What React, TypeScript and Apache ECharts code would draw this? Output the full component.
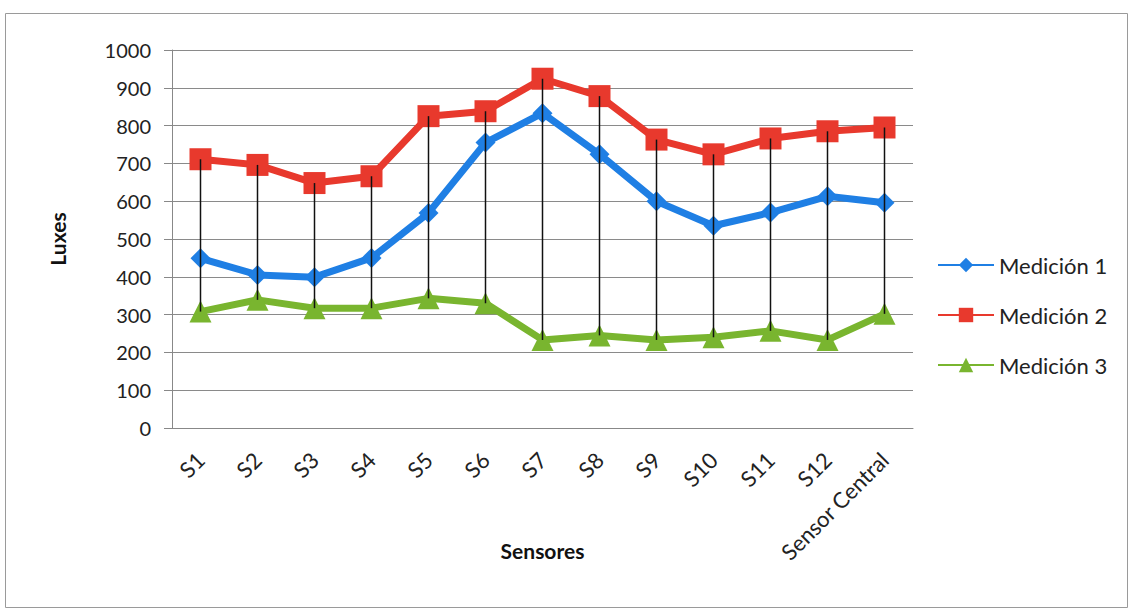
import React, { useEffect, useRef } from "react";
import * as echarts from "echarts";

const categories = ["S1", "S2", "S3", "S4", "S5", "S6", "S7", "S8", "S9", "S10", "S11", "S12", "Sensor Central"];
const medicion1 = [449, 405, 399, 450, 569, 755, 833, 724, 600, 535, 570, 613, 596];
const medicion2 = [711, 696, 648, 666, 825, 838, 924, 878, 763, 724, 766, 785, 795];
const medicion3 = [308, 339, 317, 317, 343, 330, 233, 245, 233, 240, 257, 233, 302];
const yTicks = { min: 0, max: 1000, interval: 100 };

const FONT = "Lato, 'Open Sans', sans-serif";

export default function App() {
  const ref = useRef<HTMLDivElement>(null);
  useEffect(() => {
    if (!ref.current) return;
    const chart = echarts.init(ref.current, undefined, { renderer: "svg" });
    const hiLo = categories.map((_, i) => {
      const vals = [medicion1[i], medicion2[i], medicion3[i]];
      return [i, Math.max(...vals), Math.min(...vals)];
    });
    chart.setOption({
      animation: false,
      backgroundColor: "#ffffff",
      graphic: [
        {
          type: "rect",
          shape: { x: 5.5, y: 13.5, width: 1122, height: 594 },
          style: { fill: "none", stroke: "#9a9a9a", lineWidth: 1 },
          silent: true,
        },
      ],
      grid: { left: 172, right: 219, top: 50, bottom: 180, containLabel: false },
      legend: {
        orient: "vertical",
        left: 932,
        top: 249,
        itemWidth: 56,
        itemHeight: 18,
        itemGap: 28,
        textStyle: { fontFamily: FONT, fontSize: 22, color: "#222" },
        data: ["Medición 1", "Medición 2", "Medición 3"],
      },
      xAxis: {
        type: "category",
        data: categories,
        boundaryGap: true,
        name: "Sensores",
        nameLocation: "middle",
        nameGap: 112,
        nameMoveOverlap: false,
        nameTextStyle: { fontFamily: FONT, fontSize: 21, fontWeight: "bold", color: "#111" },
        axisLine: { lineStyle: { color: "#888", width: 1 } },
        axisTick: { show: false },
        axisLabel: { rotate: 45, margin: 28, fontFamily: FONT, fontSize: 22, color: "#222", interval: 0 },
      },
      yAxis: {
        type: "value",
        min: yTicks.min,
        max: yTicks.max,
        interval: yTicks.interval,
        name: "Luxes",
        nameLocation: "middle",
        nameGap: 104,
        nameRotate: 90,
        nameMoveOverlap: false,
        nameTextStyle: { fontFamily: FONT, fontSize: 21, fontWeight: "bold", color: "#111" },
        axisLine: { show: true, lineStyle: { color: "#888", width: 1 } },
        axisTick: { show: true, inside: false, length: 8, lineStyle: { color: "#888" } },
        axisLabel: {
          margin: 21,
          fontFamily: FONT,
          fontSize: 20,
          color: "#222",
          formatter: (v: number) => String(v),
        },
        splitLine: { lineStyle: { color: "#8a8a8a", width: 1 } },
      },
      series: [
        {
          name: "Medición 1",
          type: "line",
          data: medicion1,
          color: "#1f7fe4",
          lineStyle: { width: 7, color: "#1f7fe4" },
          symbol: "diamond",
          symbolSize: 20,
          itemStyle: { color: "#1f7fe4" },
          z: 3,
        },
        {
          name: "Medición 2",
          type: "line",
          data: medicion2,
          color: "#e8392d",
          lineStyle: { width: 7, color: "#e8392d" },
          symbol: "rect",
          symbolSize: 22,
          itemStyle: { color: "#e8392d" },
          z: 3,
        },
        {
          name: "Medición 3",
          type: "line",
          data: medicion3,
          color: "#79b52f",
          lineStyle: { width: 7, color: "#79b52f" },
          symbol: "triangle",
          symbolSize: 22,
          itemStyle: { color: "#79b52f" },
          z: 3,
        },
        {
          name: "hilo",
          type: "custom",
          data: hiLo,
          z: 10,
          silent: true,
          renderItem: (params: any, api: any) => {
            const p1 = api.coord([api.value(0), api.value(1)]);
            const p2 = api.coord([api.value(0), api.value(2)]);
            return {
              type: "line",
              shape: { x1: p1[0], y1: p1[1], x2: p2[0], y2: p2[1] },
              style: { stroke: "#111", lineWidth: 1.5 },
            };
          },
        },
      ],
    });
    return () => chart.dispose();
  }, []);
  return (
    <div
      ref={ref}
      style={{ position: "fixed", left: 0, top: 0, width: 1132, height: 608, background: "#fff" }}
    />
  );
}
